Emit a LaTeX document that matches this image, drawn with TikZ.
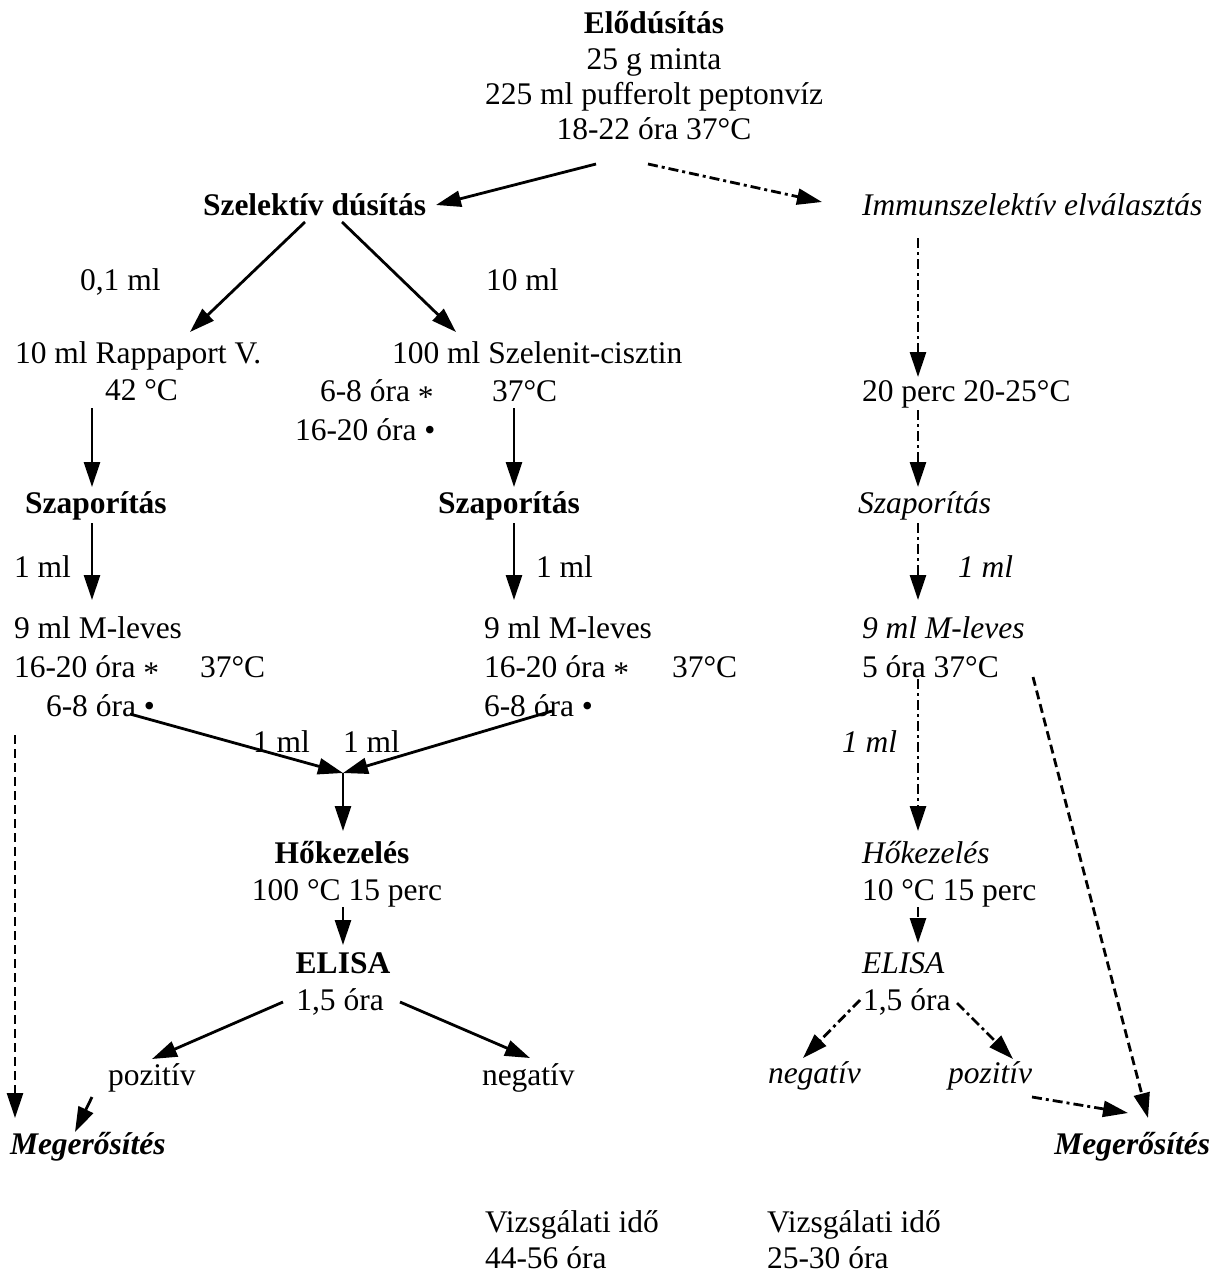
\documentclass[tikz,border=0pt]{standalone}
\usepackage{fontspec}
\setmainfont{Liberation Serif}
\usetikzlibrary{arrows.meta}
\newcommand{\myast}{\raisebox{-0.22em}{*}}
\newcommand{\mybul}{•}
\begin{document}
\begin{tikzpicture}[x=1pt,y=-1pt,
  txt/.style={inner sep=0pt, outer sep=0pt, font=\fontsize{31.5}{36}\selectfont, anchor=base west},
  ctr/.style={txt, anchor=base},
  bf/.style={font=\fontsize{31.5}{36}\selectfont\bfseries},
  it/.style={font=\fontsize{31.5}{36}\selectfont\itshape},
  bi/.style={font=\fontsize{31.5}{36}\selectfont\bfseries\itshape},
  conn/.style={line width=2.8pt, -{Triangle[length=25pt,width=16pt]}},
  dd/.style={conn, dash pattern=on 10pt off 4pt on 3pt off 4pt},
  dsh/.style={conn, dash pattern=on 9pt off 5pt},
]
\useasboundingbox (0,0) rectangle (1216,1274);
% top block
\node[ctr,bf] (e1) at (654,33) {Elődúsítás};
\node[ctr] (e2) at (654,69) {25 g minta};
\node[ctr] (e3) at (654,104) {225 ml pufferolt peptonvíz};
\node[ctr] (e4) at (654,139) {18-22 óra 37°C};
% second level
\node[txt,bf] (sz) at (203,215) {Szelektív dúsítás};
\node[txt,it] (im) at (862,215) {Immunszelektív elválasztás};
\node[txt] (v01) at (80,290) {0,1 ml};
\node[txt] (v10) at (486,290) {10 ml};
\node[txt] (rv) at (15,363) {10 ml Rappaport V.};
\node[txt] (rv2) at (105,400) {42 °C};
\node[txt] (sc) at (392,363) {100 ml Szelenit-cisztin};
\node[txt] (sc2) at (320,401) {6-8 óra \myast};
\node[txt] (sc3) at (492,401) {37°C};
\node[txt] (sc4) at (295,440) {16-20 óra \mybul};
\node[txt] (p20) at (862,401) {20 perc 20-25°C};
% Szaporitas
\node[txt,bf] (sa1) at (25,513) {Szaporítás};
\node[txt,bf] (sa2) at (438,513) {Szaporítás};
\node[txt,it] (sa3) at (858,513) {Szaporítás};
\node[txt] (m1a) at (14,577) {1 ml};
\node[txt] (m1b) at (536,577) {1 ml};
\node[txt,it] (m1c) at (958,577) {1 ml};
\node[txt] (ml1) at (14,638) {9 ml M-leves};
\node[txt] (ml2) at (484,638) {9 ml M-leves};
\node[txt,it] (ml3) at (862,638) {9 ml M-leves};
\node[txt] (h1) at (14,677) {16-20 óra \myast};
\node[txt] (t1) at (200,677) {37°C};
\node[txt] (h2) at (484,677) {16-20 óra \myast};
\node[txt] (t2) at (672,677) {37°C};
\node[txt] (h3) at (862,677) {5 óra 37°C};
\node[txt] (s1) at (46,716) {6-8 óra \mybul};
\node[txt] (s2) at (484,716) {6-8 óra \mybul};
\node[txt] (j1) at (253,752) {1 ml};
\node[txt] (j2) at (343,752) {1 ml};
\node[txt,it] (j3) at (842,752) {1 ml};
% heat / ELISA
\node[ctr,bf] (hk) at (342,863) {Hőkezelés};
\node[ctr] (hk2) at (347,900) {100 °C 15 perc};
\node[txt,it] (hkr) at (862,863) {Hőkezelés};
\node[txt] (hkr2) at (862,900) {10 °C 15 perc};
\node[ctr,bf] (el) at (343,973) {ELISA};
\node[ctr] (el2) at (340,1010) {1,5 óra};
\node[txt,it] (elr) at (862,973) {ELISA};
\node[txt] (elr2) at (863,1010) {1,5 óra};
\node[txt] (poz) at (108,1085) {pozitív};
\node[txt] (neg) at (482,1085) {negatív};
\node[txt,it] (negr) at (768,1083) {negatív};
\node[txt,it] (pozr) at (948,1083) {pozitív};
\node[txt,bi] (meg1) at (10,1154) {Megerősítés};
\node[txt,bi,anchor=base east] (meg2) at (1210,1154) {Megerősítés};
\node[txt] (vi1) at (485,1232) {Vizsgálati idő};
\node[txt] (vo1) at (485,1268) {44-56 óra};
\node[txt] (vi2) at (767,1232) {Vizsgálati idő};
\node[txt] (vo2) at (767,1268) {25-30 óra};
% connector end points
\coordinate (a1s) at (596,164); \coordinate (a1e) at (436,205);
\coordinate (a2s) at (648,164); \coordinate (a2e) at (822,202);
\coordinate (a3s) at (305,222); \coordinate (a3e) at (190,332);
\coordinate (a4s) at (342,222); \coordinate (a4e) at (456,332);
\coordinate (a5s) at (918,238); \coordinate (a5e) at (918,377);
\coordinate (a6s) at (92,408);  \coordinate (a6e) at (92,487);
\coordinate (a7s) at (514,408); \coordinate (a7e) at (514,487);
\coordinate (a8s) at (918,410); \coordinate (a8e) at (918,487);
\coordinate (a9s) at (92,523);  \coordinate (a9e) at (92,600);
\coordinate (a10s) at (514,523); \coordinate (a10e) at (514,600);
\coordinate (a11s) at (918,523); \coordinate (a11e) at (918,600);
\coordinate (a12s) at (130,714); \coordinate (jn) at (343,773);
\coordinate (a13s) at (552,711);
\coordinate (a14e) at (343,831);
\coordinate (a15s) at (15,735); \coordinate (a15e) at (15,1118);
\coordinate (a16s) at (918,679); \coordinate (a16e) at (918,831);
\coordinate (a17s) at (1033,677); \coordinate (a17e) at (1148,1118);
\coordinate (a18s) at (343,907); \coordinate (a18e) at (343,945);
\coordinate (a19s) at (918,907); \coordinate (a19e) at (918,943);
\coordinate (a20s) at (283,1002); \coordinate (a20e) at (152,1059);
\coordinate (a21s) at (400,1002); \coordinate (a21e) at (530,1058);
\coordinate (a22s) at (860,1000); \coordinate (a22e) at (803,1058);
\coordinate (a23s) at (957,1003); \coordinate (a23e) at (1013,1059);
\coordinate (a24s) at (92,1097); \coordinate (a24e) at (75,1132);
\coordinate (a25s) at (1032,1097); \coordinate (a25e) at (1128,1113);
% connectors
\draw[conn] (a1s) -- (a1e);
\draw[dd] (a2s) -- (a2e);
\draw[conn] (a3s) -- (a3e);
\draw[conn] (a4s) -- (a4e);
\draw[dd] (a5s) -- (a5e);
\draw[conn] (a6s) -- (a6e);
\draw[conn] (a7s) -- (a7e);
\draw[dd] (a8s) -- (a8e);
\draw[conn] (a9s) -- (a9e);
\draw[conn] (a10s) -- (a10e);
\draw[dd] (a11s) -- (a11e);
\draw[conn] (a12s) -- (jn);
\draw[conn] (a13s) -- (jn);
\draw[conn] (jn) -- (a14e);
\draw[dsh] (a15s) -- (a15e);
\draw[dd] (a16s) -- (a16e);
\draw[dsh] (a17s) -- (a17e);
\draw[conn] (a18s) -- (a18e);
\draw[dd] (a19s) -- (a19e);
\draw[conn] (a20s) -- (a20e);
\draw[conn] (a21s) -- (a21e);
\draw[dd] (a22s) -- (a22e);
\draw[dd] (a23s) -- (a23e);
\draw[conn] (a24s) -- (a24e);
\draw[dd] (a25s) -- (a25e);
\end{tikzpicture}
\end{document}
